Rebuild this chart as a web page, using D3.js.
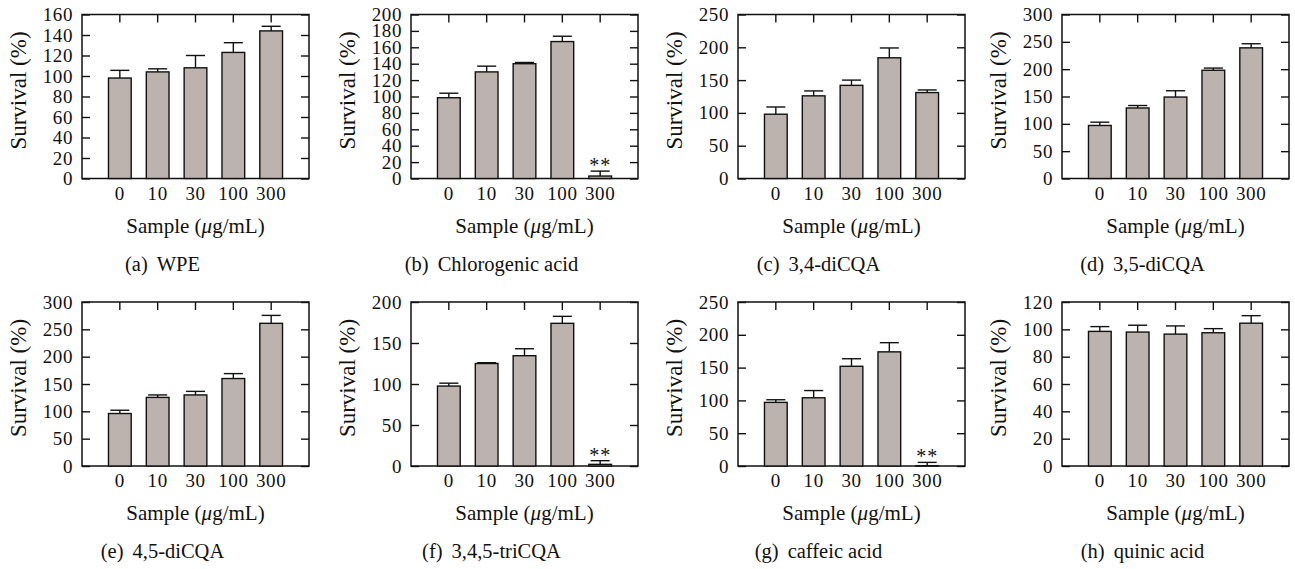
<!DOCTYPE html>
<html>
<head>
<meta charset="utf-8">
<script src="https://cdn.jsdelivr.net/npm/d3@7"></script>
<style>
  body { margin: 0; background: #fff; }
  text { font-family: "Liberation Serif", "DejaVu Serif", serif; fill: #111; }
</style>
</head>
<body>
<svg id="fig" width="1295" height="569"></svg>
<script>
// doses on the x axis (ug/mL)
const doses = ["0", "10", "30", "100", "300"];

// survival means and upper error for each sample
const wpeMean = [98, 104, 108, 123, 144];
const wpeErr = [7.5, 3, 12, 9.5, 4.5];
const chlMean = [98.5, 130, 140, 167, 3];
const chlErr = [5.5, 7, 1.5, 6.5, 6];
const di34Mean = [98, 126, 142, 184, 131];
const di34Err = [11, 7.5, 8, 15, 4];
const di35Mean = [97, 129, 149, 198, 239];
const di35Err = [6, 4.5, 11.5, 4, 7.5];
const di45Mean = [96, 125.5, 130, 160, 261];
const di45Err = [6, 4.5, 6.5, 9, 14.5];
const triMean = [97.5, 125, 134.5, 174, 2];
const triErr = [3.5, 1, 8.5, 8.5, 4.5];
const cafMean = [97, 104, 152, 174, 0.5];
const cafErr = [4, 11, 11.5, 14, 5];
const quiMean = [98.5, 98, 96.5, 97.5, 104.5];
const quiErr = [3.5, 5, 6, 3, 5.5];

// y axis ranges and tick steps
const yMaxes = [160, 200, 250, 300, 300, 200, 250, 120];
const ySteps = [20, 20, 50, 50, 50, 50, 50, 20];

// captions
const tags = ["(a)", "(b)", "(c)", "(d)", "(e)", "(f)", "(g)", "(h)"];
const names = ["WPE", "Chlorogenic acid", "3,4-diCQA", "3,5-diCQA",
               "4,5-diCQA", "3,4,5-triCQA", "caffeic acid", "quinic acid"];

// which bars carry a ** mark
const sigMarks = [[], ["300"], [], [], [], ["300"], ["300"], []];

const means = [wpeMean, chlMean, di34Mean, di35Mean, di45Mean, triMean, cafMean, quiMean];
const errs = [wpeErr, chlErr, di34Err, di35Err, di45Err, triErr, cafErr, quiErr];

// frame placement of each panel
const lefts = [82, 411, 738, 1062];
const tops = [14.5, 302];
const pw = 227, ph = 164;

const barFill = "#bcb3af";
const svg = d3.select("#fig");
svg.append("rect").attr("width", 1295).attr("height", 569).attr("fill", "#fff");

function drawPanel(i) {
  const left = lefts[i % 4], top = tops[Math.floor(i / 4)];
  const g = svg.append("g").attr("transform", `translate(${left},${top})`);

  const x = d3.scaleBand().domain(doses).range([0, pw]).paddingInner(0.4).paddingOuter(0.7);
  const y = d3.scaleLinear().domain([0, yMaxes[i]]).range([ph, 0]);
  const yTicks = d3.range(0, yMaxes[i] + 0.1, ySteps[i]);

  const rows = doses.map((d, k) => ({ dose: d, v: means[i][k], e: errs[i][k] }));

  // left axis with labels, ticks pointing inward
  const ax = g.append("g")
    .call(d3.axisLeft(y).tickValues(yTicks).tickSize(-8).tickPadding(9));
  // right mirror ticks
  const axR = g.append("g").attr("transform", `translate(${pw},0)`)
    .call(d3.axisRight(y).tickValues(yTicks).tickSize(-8).tickFormat(""));
  // top mirror ticks at bar centres
  const axT = g.append("g")
    .call(d3.axisTop(x).tickSize(-8).tickFormat(""));
  // bottom labels
  const axB = g.append("g").attr("transform", `translate(0,${ph})`)
    .call(d3.axisBottom(x).tickSize(0).tickPadding(8));

  [ax, axR, axT, axB].forEach(a => {
    a.select(".domain").remove();
    a.selectAll("line").attr("stroke", "#111").attr("stroke-width", 1.4);
    a.selectAll("text").attr("font-size", 19).attr("letter-spacing", 0.6)
      .attr("font-family", "Liberation Serif").attr("fill", "#111");
  });

  // frame
  g.append("rect").attr("width", pw).attr("height", ph)
    .attr("fill", "none").attr("stroke", "#111").attr("stroke-width", 1.5);

  // bars
  g.selectAll("rect.bar").data(rows).enter().append("rect")
    .attr("class", "bar")
    .attr("x", d => x(d.dose))
    .attr("y", d => y(d.v))
    .attr("width", x.bandwidth())
    .attr("height", d => y(0) - y(d.v))
    .attr("fill", barFill)
    .attr("stroke", "#111")
    .attr("stroke-width", 1.4);

  // upper error bars
  const capHalf = x.bandwidth() * 0.42;
  const eb = g.selectAll("g.err").data(rows).enter().append("g").attr("class", "err");
  eb.append("line")
    .attr("x1", d => x(d.dose) + x.bandwidth() / 2)
    .attr("x2", d => x(d.dose) + x.bandwidth() / 2)
    .attr("y1", d => y(d.v)).attr("y2", d => y(d.v + d.e))
    .attr("stroke", "#111").attr("stroke-width", 1.4);
  eb.append("line")
    .attr("x1", d => x(d.dose) + x.bandwidth() / 2 - capHalf)
    .attr("x2", d => x(d.dose) + x.bandwidth() / 2 + capHalf)
    .attr("y1", d => y(d.v + d.e)).attr("y2", d => y(d.v + d.e))
    .attr("stroke", "#111").attr("stroke-width", 1.4);

  // significance marks
  g.selectAll("text.sig").data(rows.filter(d => sigMarks[i].includes(d.dose))).enter()
    .append("text").attr("class", "sig")
    .attr("x", d => x(d.dose) + x.bandwidth() / 2)
    .attr("y", d => y(d.v + d.e) + 1)
    .attr("text-anchor", "middle")
    .attr("font-size", 20)
    .attr("letter-spacing", 1)
    .attr("fill", "#555")
    .text("**");

  // y title
  g.append("text")
    .attr("transform", `translate(-56,${ph / 2 - 6}) rotate(-90)`)
    .attr("text-anchor", "middle")
    .attr("font-size", 23)
    .text("Survival (%)");

  // x title
  const xt = g.append("text")
    .attr("x", pw / 2).attr("y", ph + 54)
    .attr("text-anchor", "middle")
    .attr("font-size", 21);
  xt.append("tspan").text("Sample (");
  xt.append("tspan").attr("font-style", "italic").text("μ");
  xt.append("tspan").text("g/mL)");

  // caption
  const cap = g.append("text")
    .attr("x", pw / 2 - 33).attr("y", ph + 92)
    .attr("text-anchor", "middle")
    .attr("font-size", 20.5);
  cap.append("tspan").text(tags[i]);
  cap.append("tspan").attr("dx", 9).text(names[i]);
}

d3.range(8).forEach(drawPanel);
</script>
</body>
</html>
